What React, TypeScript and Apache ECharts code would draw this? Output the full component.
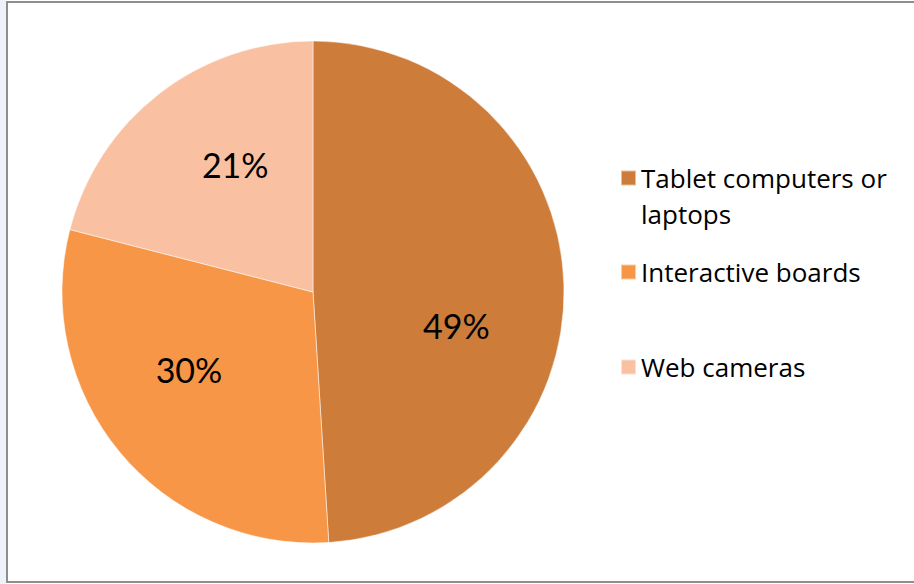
import React, { useEffect, useRef } from "react";
import * as echarts from "echarts";

const categories = ["Tablet computers or laptops", "Interactive boards", "Web cameras"];
const legendLabels = [" \nTablet computers or\nlaptops", "Interactive boards", "Web cameras"];
const values = [49, 30, 21];
const colors = ["#CD7C39", "#F79646", "#F9C0A1"];
const labelOffsets = [[15, 38], [-25, -4], [1, -26]];
const legendIconCenters = [178, 272, 367];

export default function App() {
  const ref = useRef<HTMLDivElement>(null);
  useEffect(() => {
    if (!ref.current) return;
    const chart = echarts.init(ref.current, undefined, { renderer: "svg" });
    const lh = 36;
    const legends = categories.map((name, i) => {
      const lines = legendLabels[i].split("\n").length;
      return {
        orient: "vertical",
        left: 620,
        top: legendIconCenters[i] - (lines * lh) / 2,
        data: [name],
        icon: "rect",
        itemWidth: 15,
        itemHeight: 15,
        itemGap: 0,
        padding: 0,
        selectedMode: false,
        formatter: () => legendLabels[i],
        textStyle: {
          fontFamily: "Open Sans",
          fontSize: 26,
          color: "#000",
          lineHeight: lh,
        },
      };
    });
    chart.setOption({
      animation: false,
      backgroundColor: "#fff",
      graphic: [
        { type: "rect", shape: { x: 0, y: 0, width: 6, height: 584 }, style: { fill: "#EEF3FA" }, silent: true },
        {
          type: "rect",
          shape: { x: 7, y: 2, width: 930, height: 580 },
          style: { fill: "none", stroke: "#8E8E8E", lineWidth: 2 },
          silent: true,
        },
      ],
      legend: legends,
      series: [
        {
          type: "pie",
          center: [313, 292],
          radius: 251,
          startAngle: 90,
          clockwise: true,
          avoidLabelOverlap: false,
          itemStyle: { borderColor: "rgba(255,255,255,0.5)", borderWidth: 1 },
          label: {
            show: true,
            position: "inside",
            formatter: "{c}%",
            fontFamily: "Lato",
            fontSize: 34,
            color: "#000",
          },
          labelLine: { show: false },
          emphasis: { disabled: true },
          data: categories.map((name, i) => ({
            name,
            value: values[i],
            itemStyle: { color: colors[i] },
            label: { offset: labelOffsets[i] },
          })),
        },
      ],
    });
    return () => chart.dispose();
  }, []);
  return (
    <div
      ref={ref}
      style={{ position: "fixed", left: 0, top: 0, width: 914, height: 584 }}
    />
  );
}
